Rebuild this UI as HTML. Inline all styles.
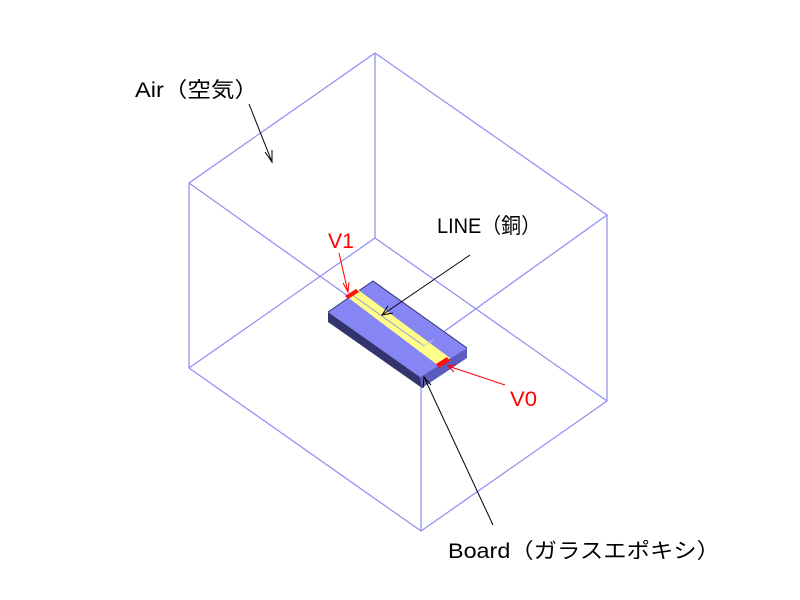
<!DOCTYPE html>
<html><head><meta charset="utf-8"><style>html,body{margin:0;padding:0;background:#fff;}svg{display:block}</style></head>
<body>
<svg width="800" height="600" viewBox="0 0 800 600" xmlns="http://www.w3.org/2000/svg" font-family="'Liberation Sans','Noto Sans CJK JP',sans-serif">
<g stroke="#8c8cf5" stroke-width="1.2" fill="none">
<polyline points="189,183 375,53 607,215 421,348 189,183"/>
<line x1="189" y1="183" x2="189" y2="368"/>
<line x1="607" y1="215" x2="607" y2="401"/>
<line x1="421" y1="348" x2="421" y2="531"/>
<polyline points="189,368 421,531 607,401"/>
<line x1="375" y1="53" x2="375" y2="238"/>
<polyline points="189,368 375,238 607,401"/>
</g>
<!-- board -->
<polygon points="328,312 373,281 467,348 420,377" fill="#8585f5"/>
<polygon points="328,312 420,377 422,388 328,322" fill="#33336e"/>
<polygon points="420,377 467,348 467,358 422,388" fill="#5c5cc0"/>
<polyline points="328,312 373,281 467,348" fill="none" stroke="#33336e" stroke-width="1"/>
<!-- strip -->
<polygon points="346,296 357,289 450,358 439,366" fill="#ffff88"/>
<line x1="351" y1="294" x2="424" y2="346" stroke="#9a9ae0" stroke-width="1"/>
<line x1="424" y1="346" x2="433" y2="340" stroke="#d0d0c0" stroke-width="1"/>
<polygon points="345,296 356,289 359,292 348,299" fill="#ff1010"/>
<polygon points="436,364 447,357 450,361 439,368" fill="#ff1010"/>
<!-- arrows -->
<g stroke="#000" stroke-width="1" fill="none">
<line x1="249" y1="104" x2="272" y2="162"/><polyline points="265,152 272,162 272,150"/>
<line x1="470" y1="255" x2="382" y2="315"/><polyline points="388,306 382,315 393,313"/>
<line x1="493" y1="525" x2="424" y2="377"/><polyline points="423,388 424,377 431,385"/>
</g>
<g stroke="#ff0000" stroke-width="1" fill="none">
<line x1="339" y1="253" x2="348" y2="292"/><polyline points="343,283 348,292 349,282"/>
<line x1="505" y1="385" x2="448" y2="366"/><polyline points="456,365 448,366 454,372"/>
</g>
<g font-size="21" fill="#000">
<text x="135" y="97" textLength="123" lengthAdjust="spacingAndGlyphs">Air（空気）</text>
<text x="437" y="233" textLength="104" lengthAdjust="spacingAndGlyphs">LINE（銅）</text>
<text x="448" y="558" textLength="272" lengthAdjust="spacingAndGlyphs">Board（ガラスエポキシ）</text>
</g>
<g font-size="21" fill="#ff0000">
<text x="328" y="248" textLength="26" lengthAdjust="spacingAndGlyphs">V1</text>
<text x="510" y="406" textLength="27" lengthAdjust="spacingAndGlyphs">V0</text>
</g>
</svg>
</body></html>
